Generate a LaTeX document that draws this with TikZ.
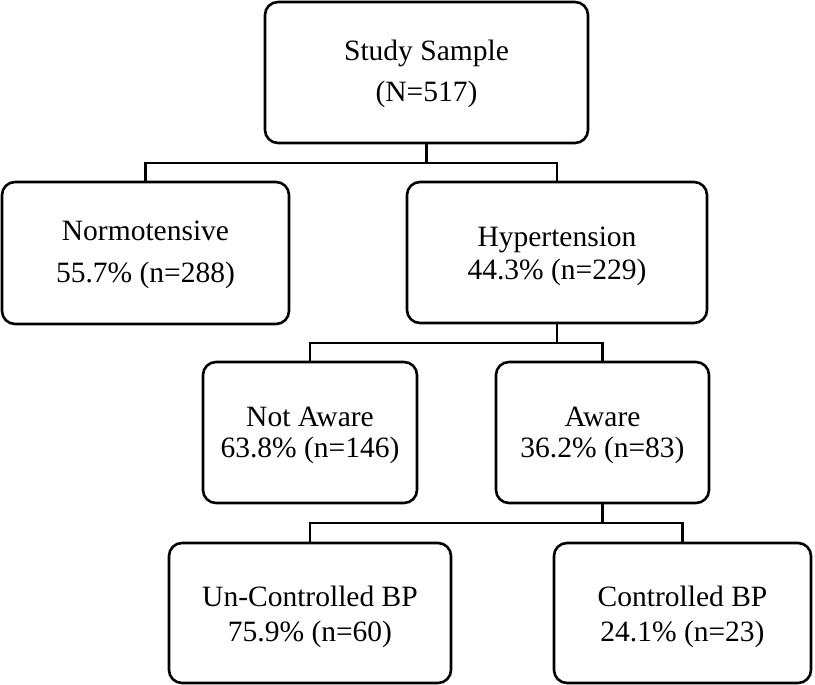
\documentclass[tikz,border=0pt]{standalone}
\usepackage{fontspec}
\setmainfont{Liberation Serif}
\newcommand{\fstrut}[1]{\rule{0pt}{#1pt}}
\tikzset{
  boxnode/.style={draw, rounded corners=13pt, line width=2.6pt, align=center,
    inner sep=0pt, font=\fontsize{29.5}{#1}\selectfont},
  conn/.style={line width=2.6pt}
}
\begin{document}
\begin{tikzpicture}[x=1pt,y=-1pt]
\useasboundingbox (0,0) rectangle (815,685);
\node[boxnode=41, minimum width=323pt, minimum height=141pt] (ss) at (426.5,72.5)
  {\fstrut{24}Study Sample\\(N=517)};
\node[boxnode=42, minimum width=287pt, minimum height=142pt] (nt) at (145.5,253)
  {\fstrut{24}Normotensive\\55.7\% (n=288)};
\node[boxnode=33, minimum width=300pt, minimum height=141pt] (ht) at (557,252.5)
  {\fstrut{28}Hypertension\\44.3\% (n=229)};
\node[boxnode=31, minimum width=214pt, minimum height=141pt] (na) at (310,432.5)
  {\fstrut{26}Not Aware\\63.8\% (n=146)};
\node[boxnode=31, minimum width=213pt, minimum height=141pt] (aw) at (602.5,432.5)
  {\fstrut{26}Aware\\36.2\% (n=83)};
\node[boxnode=35, minimum width=282pt, minimum height=140pt] (uc) at (310,613)
  {\fstrut{29}Un-Controlled BP\\75.9\% (n=60)};
\node[boxnode=35, minimum width=257pt, minimum height=140pt] (cb) at (682.5,613)
  {\fstrut{29}Controlled BP\\24.1\% (n=23)};
\coordinate (j1) at (426.5,163);
\coordinate (j2) at (557,343);
\coordinate (j3) at (602.5,523);
\draw[conn] (ss.south) -- (j1);
\draw[conn] (nt.north) |- (j1) -| (ht.north);
\draw[conn] (ht.south) -- (j2);
\draw[conn] (na.north) |- (j2) -| (aw.north);
\draw[conn] (aw.south) -- (j3);
\draw[conn] (uc.north) |- (j3) -| (cb.north);
\end{tikzpicture}
\end{document}
